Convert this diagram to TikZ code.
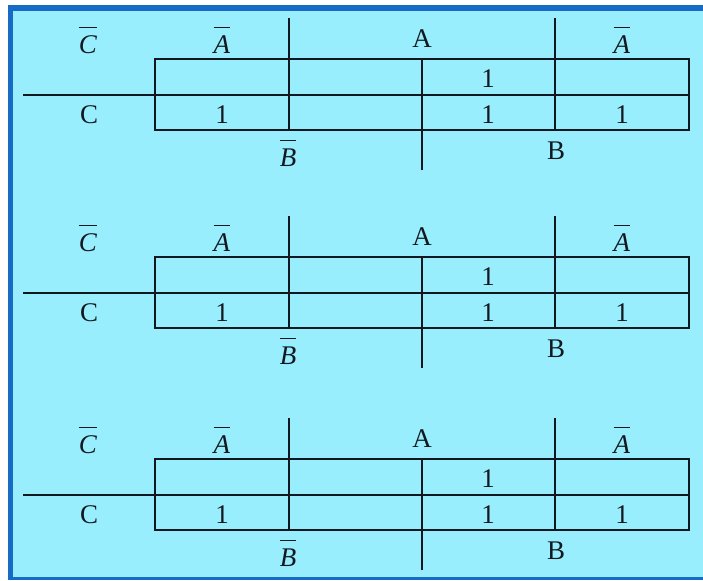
\documentclass[tikz,border=0pt]{standalone}
\usepackage{fontspec}
\setmainfont{Liberation Serif}
\definecolor{panelcyan}{RGB}{152,238,252}
\definecolor{framblue}{RGB}{22,108,196}
\definecolor{inkdark}{RGB}{18,24,32}
\tikzset{
    kgrid/.style={line width=1.8pt, draw=inkdark},
    klabel/.style={text=inkdark, font=\fontsize{23}{26}\selectfont, inner sep=0pt, anchor=base}
}
\newcommand{\negl}[1]{$\overline{\raisebox{0pt}[\dimexpr\height+5.5pt\relax]{\textit{#1}}}$}
\begin{document}
\begin{tikzpicture}[x=0.03cm,y=-0.03cm]
    \useasboundingbox (0,0) rectangle (703,580);
    \fill[white] (0,0) rectangle (703,580);
    \fill[framblue] (8,5) rectangle (703,580);
    \fill[panelcyan] (13,11) rectangle (703,577);
    \foreach \dy/\m in {0/a,198/b,400/c} {
        \begin{scope}[yshift=-\dy*0.03cm]
        \draw[kgrid] (155,59) rectangle (689,130);
        \draw[kgrid] (23,95) -- (689,95);
        \draw[kgrid] (289,18) -- (289,130);
        \draw[kgrid] (422,59) -- (422,170);
        \draw[kgrid] (555,18) -- (555,130);
        \node[klabel] (cbar\m) at (88,53) {\negl{C}};
        \node[klabel] (abarl\m) at (222,53) {\negl{A}};
        \node[klabel] (a\m) at (422,47) {A};
        \node[klabel] (abarr\m) at (622,53) {\negl{A}};
        \node[klabel] (c\m) at (89,123) {C};
        \node[klabel] (one1\m) at (488,87) {1};
        \node[klabel] (one2\m) at (222,123) {1};
        \node[klabel] (one3\m) at (488,123) {1};
        \node[klabel] (one4\m) at (622,123) {1};
        \node[klabel] (bbar\m) at (288,166) {\negl{B}};
        \node[klabel] (b\m) at (556,159) {B};
        \end{scope}
    }
\end{tikzpicture}
\end{document}
